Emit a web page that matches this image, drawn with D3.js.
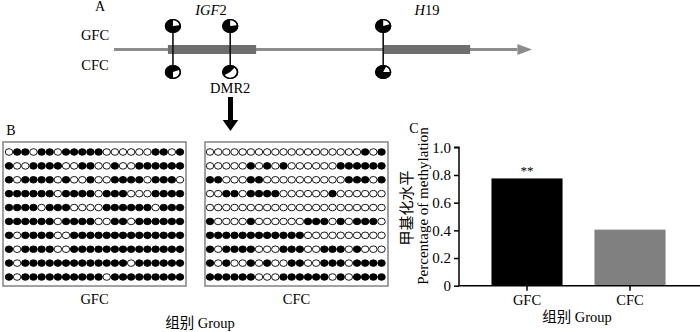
<!DOCTYPE html>
<html><head><meta charset="utf-8">
<script src="https://cdn.jsdelivr.net/npm/d3@7/dist/d3.min.js"></script>
<style>
html,body{margin:0;padding:0;background:#fff;}
svg{display:block;}
text{font-family:"Liberation Serif","Times New Roman",serif;fill:#000;}
.cjk{font-family:"Noto Sans CJK SC","Noto Sans",sans-serif;}
</style></head>
<body>
<svg id="chart" width="700" height="332"></svg>
<script>
// ---------- DATA ----------
// Panel A: gene track (arbitrary genomic units 0..100)
const geneNames = ["IGF2", "H19"];
const geneStart = [12.9, 64.4];
const geneEnd = [34.0, 85.2];
const siteNames = ["IGF2-1", "DMR2", "H19"];
const sitePos = [14.1, 27.8, 64.4];
const gfcSiteMeth = [0.77, 0.77, 0.80];   // black fraction
const cfcSiteMeth = [0.70, 0.45, 0.82];
const gfcWhiteStart = [0, 0, 0];          // degrees, clockwise from 12 o'clock
const cfcWhiteStart = [70, 40, 25];
const rowLabels = ["GFC", "CFC"];

// Panel B: bisulfite clone sequencing (1 = methylated CpG, 0 = unmethylated)
const gfcClones = [
  "0110110111110000001101",
  "1001111001100100111111",
  "1011110100100111101110",
  "1111110111101110001111",
  "1111011100001111110111",
  "1111110111100110111111",
  "1011110011111111111111",
  "1011110011111111111111",
  "1011111111111110111111",
  "1011111111110111111111"
];
const cfcClones = [
  "0000000000000000000101",
  "0000010101000000111111",
  "1100011000000000011101",
  "0011011110000001000000",
  "0000000000000000000000",
  "1000010000001110101110",
  "1111111111110000000000",
  "1011110001110011101000",
  "1010010100110011101111",
  "1111110001111110101111"
];

// Panel C: bar chart
const groups = ["GFC", "CFC"];
const methValues = [0.775, 0.405];
const yTicks = [0, 0.2, 0.4, 0.6, 0.8, 1.0];
const signif = ["**", ""];

// ---------- DRAW ----------
const svg = d3.select("#chart");

// ===== Panel A =====
const tx = d3.scaleLinear().domain([0, 100]).range([114, 532]);
const trackY = 49.5;
svg.append("text").attr("x", 100).attr("y", 11).attr("text-anchor", "middle")
  .attr("fill", "#000").style("font-size", "14px").text("A");

svg.append("line").attr("x1", tx(0)).attr("x2", tx(96.5)).attr("y1", trackY).attr("y2", trackY)
  .attr("stroke", "#8c8c8c").attr("stroke-width", 3.2);
svg.append("path")
  .attr("d", `M${tx(96.5)},${trackY - 5.5} L${tx(100)},${trackY} L${tx(96.5)},${trackY + 5.5} Z`)
  .attr("fill", "#8c8c8c");

svg.selectAll("rect.gene").data(geneNames).enter().append("rect")
  .attr("class", "gene")
  .attr("x", (d, i) => tx(geneStart[i]))
  .attr("width", (d, i) => tx(geneEnd[i]) - tx(geneStart[i]))
  .attr("y", trackY - 4.5).attr("height", 9)
  .attr("fill", "#6e6e6e");

const gl = svg.selectAll("text.gl").data(geneNames).enter().append("text")
  .attr("class", "gl")
  .attr("x", (d, i) => i === 0 ? 211 : 427).attr("y", 15)
  .attr("text-anchor", "middle").attr("fill", "#000").style("font-size", "14.5px");
gl.append("tspan").style("font-style", "italic").text(d => d.match(/^[A-Za-z]+/)[0]);
gl.append("tspan").text(d => d.replace(/^[A-Za-z]+/, ""));

svg.selectAll("text.rl").data(rowLabels).enter().append("text")
  .attr("class", "rl").attr("x", 95).attr("y", (d, i) => i === 0 ? 40 : 70)
  .attr("text-anchor", "middle").attr("fill", "#000").style("font-size", "14.5px").text(d => d);

const topY = 26, botY = 72, rr = 7;
sitePos.forEach((p, i) => {
  const cx = tx(p);
  svg.append("line").attr("x1", cx).attr("x2", cx).attr("y1", topY).attr("y2", botY)
    .attr("stroke", "#111").attr("stroke-width", 1.6);
  [[topY, gfcSiteMeth[i], gfcWhiteStart[i]], [botY, cfcSiteMeth[i], cfcWhiteStart[i]]].forEach(([cy, m, ws]) => {
    const g = svg.append("g").attr("transform", `translate(${cx},${cy}) scale(1.15,1)`);
    g.append("circle").attr("r", rr).attr("fill", "#000");
    const a0 = ws * Math.PI / 180;
    const a1 = a0 + (1 - m) * 2 * Math.PI;
    g.append("path").attr("d", d3.arc().innerRadius(0).outerRadius(rr - 1.3).startAngle(a0).endAngle(a1)())
      .attr("fill", "#fff");
    g.append("circle").attr("r", rr - 0.5).attr("fill", "none").attr("stroke", "#000").attr("stroke-width", 1.2);
  });
});

const dmrX = tx(sitePos[1]);
svg.append("text").attr("x", dmrX).attr("y", 93).attr("text-anchor", "middle")
  .attr("fill", "#000").style("font-size", "14.5px").text("DMR2");
svg.append("rect").attr("x", dmrX - 2.2).attr("y", 97).attr("width", 5).attr("height", 24).attr("fill", "#000");
svg.append("path").attr("d", `M${dmrX - 7.5},120 L${dmrX + 8},120 L${dmrX + 0.25},131 Z`).attr("fill", "#000");

// ===== Panel B =====
svg.append("text").attr("x", 11).attr("y", 135).attr("text-anchor", "middle")
  .attr("fill", "#000").style("font-size", "14px").text("B");

const rowY = d3.scaleLinear().domain([0, 9]).range([152, 277]);
const panels = [
  { name: "GFC", data: gfcClones, box: [3, 186], cols: [9, 180] },
  { name: "CFC", data: cfcClones, box: [205, 388], cols: [210, 381.5] }
];
panels.forEach(pn => {
  svg.append("rect").attr("x", pn.box[0]).attr("y", 142)
    .attr("width", pn.box[1] - pn.box[0]).attr("height", 144)
    .attr("fill", "none").attr("stroke", "#8a8a8a").attr("stroke-width", 1.6);
  const cx = d3.scaleLinear().domain([0, 21]).range(pn.cols);
  const cells = [];
  pn.data.forEach((row, r) => row.split("").forEach((v, c) => cells.push({ r, c, v: +v })));
  svg.append("g").selectAll("ellipse").data(cells).enter().append("ellipse")
    .attr("cx", d => cx(d.c)).attr("cy", d => rowY(d.r))
    .attr("rx", 3.75).attr("ry", 3.3)
    .attr("fill", d => d.v ? "#000" : "#fff")
    .attr("stroke", "#000").attr("stroke-width", 0.9);
  svg.append("text").attr("x", (pn.box[0] + pn.box[1]) / 2).attr("y", 304)
    .attr("text-anchor", "middle").attr("fill", "#000").style("font-size", "14.5px").text(pn.name);
});
const bt = svg.append("text").attr("x", 200).attr("y", 328).attr("text-anchor", "middle")
  .attr("fill", "#000").style("font-size", "14.5px");
bt.append("tspan").attr("class", "cjk").text("组别");
bt.append("tspan").text(" Group");

// ===== Panel C =====
svg.append("text").attr("x", 414).attr("y", 133).attr("text-anchor", "middle")
  .attr("fill", "#000").style("font-size", "14px").text("C");

const y = d3.scaleLinear().domain([0, 1]).range([285.7, 147.3]);
const x = d3.scaleBand().domain(groups).range([475.5, 681.5]).paddingInner(0.31).paddingOuter(0.155);
const axisX0 = 459;

svg.selectAll("rect.bar").data(groups).enter().append("rect")
  .attr("class", "bar")
  .attr("x", d => x(d)).attr("width", x.bandwidth())
  .attr("y", (d, i) => y(methValues[i])).attr("height", (d, i) => y(0) - y(methValues[i]))
  .attr("fill", (d, i) => i === 0 ? "#000" : "#808080");

svg.selectAll("text.sig").data(groups).enter().append("text")
  .attr("class", "sig")
  .attr("x", d => x(d) + x.bandwidth() / 2).attr("y", (d, i) => y(methValues[i]) - 3)
  .attr("text-anchor", "middle").attr("fill", "#000").style("font-size", "13px").text((d, i) => signif[i]);

const yAxis = svg.append("g").attr("transform", `translate(${axisX0},0)`)
  .call(d3.axisLeft(y).tickValues(yTicks).tickSize(5).tickPadding(3)
    .tickFormat(d => d === 0 ? "0" : d3.format(".1f")(d)));
yAxis.select(".domain").attr("stroke", "#000").attr("stroke-width", 1.5).attr("d", `M-5,${y(1)}H0V${y(0)}`);
yAxis.selectAll(".tick line").attr("stroke", "#000").attr("stroke-width", 1.5);
yAxis.selectAll(".tick text").style("font-size", "15px").style("font-family", "Liberation Serif").attr("fill", "#000");

svg.append("line").attr("x1", axisX0 - 0.75).attr("x2", 700).attr("y1", y(0)).attr("y2", y(0))
  .attr("stroke", "#000").attr("stroke-width", 1.5);
const xAxis = svg.append("g").attr("transform", `translate(0,${y(0)})`)
  .call(d3.axisBottom(x).tickSize(5).tickPadding(4));
xAxis.select(".domain").remove();
xAxis.selectAll(".tick line").attr("stroke", "#000").attr("stroke-width", 1.5);
xAxis.selectAll(".tick text").style("font-size", "14.5px").style("font-family", "Liberation Serif").attr("fill", "#000");

const ct = svg.append("text").attr("x", 577).attr("y", 322).attr("text-anchor", "middle")
  .attr("fill", "#000").style("font-size", "14.5px");
ct.append("tspan").attr("class", "cjk").text("组别");
ct.append("tspan").text(" Group");

svg.append("text").attr("class", "cjk").attr("transform", "translate(412,208) rotate(-90)")
  .attr("text-anchor", "middle").attr("fill", "#000").style("font-size", "15px").text("甲基化水平");
svg.append("text").attr("transform", "translate(428,206) rotate(-90)")
  .attr("text-anchor", "middle").attr("fill", "#000").style("font-size", "15px").text("Percentage of methylation");
</script>
</body></html>
